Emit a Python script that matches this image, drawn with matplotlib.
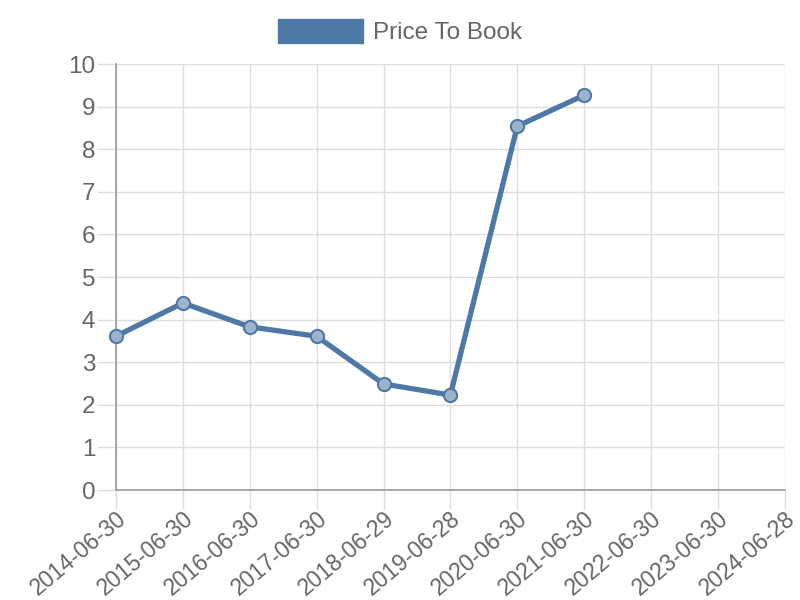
import matplotlib
matplotlib.use("Agg")
import matplotlib.pyplot as plt
from matplotlib.patches import Patch

# data
dates = ["2014-06-30", "2015-06-30", "2016-06-30", "2017-06-30", "2018-06-29",
         "2019-06-28", "2020-06-30", "2021-06-30", "2022-06-30", "2023-06-30",
         "2024-06-28"]
price_to_book = [3.61, 4.39, 3.83, 3.61, 2.49, 2.23, 8.54, 9.27]
y_ticks = list(range(0, 11))

line_color = "#4e79a7"
text_color = "#666666"
grid_color = "#dddddd"

plt.rcParams["font.family"] = ["Liberation Sans", "DejaVu Sans"]

fig = plt.figure(figsize=(8, 6), dpi=100)
ax = fig.add_axes([0.145, 0.1833, 0.836, 0.71])

x = list(range(len(price_to_book)))
ax.plot(x, price_to_book, color=line_color, linewidth=3.8, zorder=3,
        solid_joinstyle="round")
ax.plot(x, price_to_book, linestyle="none", marker="o", markersize=9.5,
        markerfacecolor="#9db3cc", markeredgecolor=line_color,
        markeredgewidth=1.5, zorder=4, clip_on=False)

ax.set_xlim(0, len(dates) - 1)
ax.set_ylim(0, 10)
ax.set_xticks(range(len(dates)))
ax.set_xticklabels(dates, rotation=40, ha="right", rotation_mode="anchor")
ax.set_yticks(y_ticks)

ax.grid(True, color=grid_color, linewidth=1)
ax.set_axisbelow(True)
for side in ["top", "right"]:
    ax.spines[side].set_visible(False)
for side in ["left", "bottom"]:
    ax.spines[side].set_color("#999999")
    ax.spines[side].set_linewidth(1.2)

ax.tick_params(axis="both", colors=grid_color, labelcolor=text_color,
               labelsize=17.5, length=14, width=1)
ax.tick_params(axis="x", pad=-2, labelsize=16.5)
ax.tick_params(axis="y", pad=1)

handle = Patch(facecolor=line_color, edgecolor=line_color)
fig.legend([handle], ["Price To Book"], loc="center", bbox_to_anchor=(0.5, 0.947),
           frameon=False, fontsize=17.5, handlelength=3.5, handleheight=1.15,
           handletextpad=0.4, labelcolor=text_color)

fig.savefig("out.png", dpi=100)
